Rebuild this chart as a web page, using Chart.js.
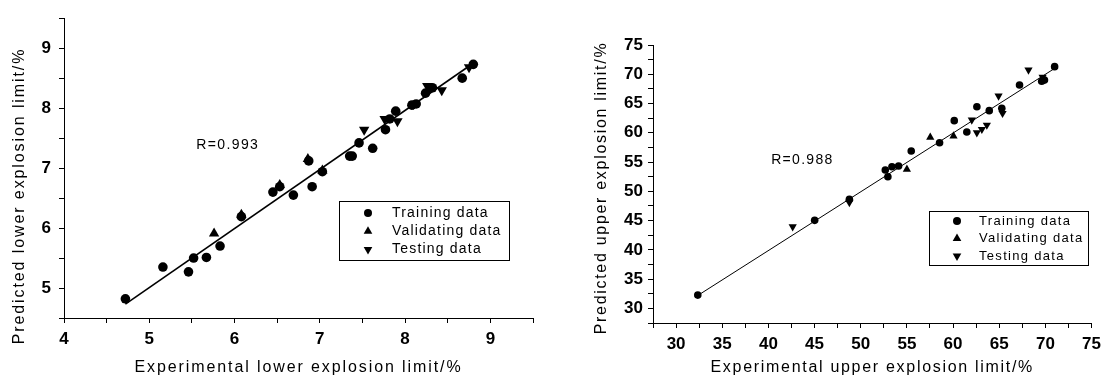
<!DOCTYPE html>
<html>
<head>
<meta charset="utf-8">
<script src="https://cdn.jsdelivr.net/npm/chart.js@4.4.1/dist/chart.umd.min.js"></script>
<style>
  html, body { margin: 0; padding: 0; background: #fff; }
  #wrap { position: relative; width: 1107px; height: 380px; }
  #lower { position: absolute; left: 0; top: 0; }
  #upper { position: absolute; left: 580px; top: 0; }
</style>
</head>
<body>
<div id="wrap">
  <canvas id="lower" width="560" height="380"></canvas>
  <canvas id="upper" width="527" height="380"></canvas>
</div>
<script>
// lower explosion limit (left panel)
const lowerTrainX = [4.72, 5.16, 5.46, 5.52, 5.67, 5.83, 6.08, 6.45, 6.53, 6.69, 6.87, 6.91, 7.03, 7.35, 7.38, 7.46, 7.62, 7.77, 7.82, 7.89, 8.08, 8.13, 8.24, 8.32, 8.67, 8.80];
const lowerTrainY = [4.82, 5.35, 5.27, 5.50, 5.51, 5.70, 6.19, 6.60, 6.69, 6.55, 7.12, 6.69, 6.94, 7.20, 7.20, 7.42, 7.33, 7.64, 7.82, 7.95, 8.05, 8.07, 8.25, 8.34, 8.50, 8.73];
const lowerValidX = [5.76, 6.08, 6.53, 6.86, 7.03];
const lowerValidY = [5.91, 6.22, 6.72, 7.15, 6.96];
const lowerTestX = [7.52, 7.76, 7.91, 8.10, 8.26, 8.43, 8.75];
const lowerTestY = [7.64, 7.82, 7.78, 8.07, 8.37, 8.30, 8.68];
const lowerFitX = [4.72, 8.82];
const lowerFitY = [4.73, 8.77];

// upper explosion limit (right panel)
const upperTrainX = [32.35, 45.01, 48.77, 52.66, 52.94, 53.38, 54.10, 55.47, 58.54, 60.13, 61.49, 62.58, 63.92, 65.28, 67.20, 69.6, 69.9, 71.0];
const upperTrainY = [32.27, 45.04, 48.65, 53.64, 52.50, 54.21, 54.32, 56.90, 58.31, 62.07, 60.14, 64.46, 63.78, 64.19, 68.17, 68.8, 69.0, 71.3];
const upperValidX = [55.00, 57.53, 60.05];
const upperValidY = [53.76, 59.23, 59.45];
const upperTestX = [42.63, 48.77, 62.03, 62.58, 63.12, 63.66, 64.93, 65.36, 68.17, 69.7];
const upperTestY = [43.95, 48.10, 62.19, 60.02, 60.60, 61.33, 66.29, 63.33, 70.73, 69.5];
const upperFitX = [32.35, 71.0];
const upperFitY = [32.2, 71.0];

const seriesNames = ["Training data", "Validating data", "Testing data"];

function pts(xs, ys) {
  return xs.map((x, i) => ({ x: x, y: ys[i] }));
}

Chart.defaults.font.family = "'Liberation Sans', Arial, sans-serif";
Chart.defaults.color = "#000";

const markerStyles = [
  { pointStyle: "circle", rotation: 0 },
  { pointStyle: "triangle", rotation: 0 },
  { pointStyle: "triangle", rotation: 180 }
];

function drawMarker(ctx, style, r, x, y) {
  ctx.save();
  ctx.translate(x, y);
  ctx.rotate(style.rotation * Math.PI / 180);
  ctx.beginPath();
  if (style.pointStyle === "circle") {
    ctx.arc(0, 0, r, 0, Math.PI * 2);
  } else {
    ctx.moveTo(0, -r);
    ctx.lineTo(r * Math.sin(2 * Math.PI / 3), -r * Math.cos(2 * Math.PI / 3));
    ctx.lineTo(r * Math.sin(4 * Math.PI / 3), -r * Math.cos(4 * Math.PI / 3));
    ctx.closePath();
  }
  ctx.fill();
  ctx.restore();
}

// axis titles, R value and framed legend
const overlay = {
  id: "overlay",
  afterDraw(chart, args, opts) {
    const ctx = chart.ctx;
    const area = chart.chartArea;
    ctx.save();
    ctx.fillStyle = "#000";
    ctx.strokeStyle = "#000";

    ctx.letterSpacing = opts.titleSpacing;
    ctx.font = opts.titleFont;
    ctx.textAlign = "center";
    ctx.textBaseline = "middle";
    ctx.fillText(opts.xTitle, (area.left + area.right) / 2, opts.xTitleY);
    ctx.save();
    ctx.translate(opts.yTitleX, opts.yTitleY);
    ctx.rotate(-Math.PI / 2);
    ctx.fillText(opts.yTitle, 0, 0);
    ctx.restore();

    ctx.letterSpacing = opts.labelSpacing;
    ctx.font = opts.labelFont;
    ctx.textAlign = "left";
    const rx = chart.scales.x.getPixelForValue(opts.rAt[0]);
    const ry = chart.scales.y.getPixelForValue(opts.rAt[1]);
    ctx.fillText(opts.rText, rx, ry);

    const box = opts.legendBox;
    ctx.font = box.font;
    ctx.letterSpacing = box.spacing;
    ctx.lineWidth = 1;
    ctx.strokeRect(box.x + 0.5, box.y + 0.5, box.w, box.h);
    seriesNames.forEach((name, i) => {
      const y = box.y + box.firstRow + i * box.rowGap;
      drawMarker(ctx, markerStyles[i], i === 0 ? box.r : box.r * 1.25, box.x + box.markerX, y);
      ctx.fillText(name, box.x + box.textX, y);
    });
    ctx.restore();
  }
};

function buildChart(canvas, cfg) {
  const dotColor = "#000";
  return new Chart(canvas, {
    type: "scatter",
    data: {
      datasets: [
        {
          label: seriesNames[0],
          data: pts(cfg.train[0], cfg.train[1]),
          pointStyle: "circle",
          pointRadius: cfg.r,
          backgroundColor: dotColor,
          borderColor: dotColor,
          borderWidth: 0
        },
        {
          label: seriesNames[1],
          data: pts(cfg.valid[0], cfg.valid[1]),
          pointStyle: "triangle",
          pointRadius: cfg.r * 1.25,
          backgroundColor: dotColor,
          borderColor: dotColor,
          borderWidth: 0
        },
        {
          label: seriesNames[2],
          data: pts(cfg.test[0], cfg.test[1]),
          pointStyle: "triangle",
          rotation: 180,
          pointRadius: cfg.r * 1.25,
          backgroundColor: dotColor,
          borderColor: dotColor,
          borderWidth: 0
        },
        {
          label: "fit",
          data: pts(cfg.fit[0], cfg.fit[1]),
          showLine: true,
          pointRadius: 0,
          borderColor: "#000",
          borderWidth: cfg.lineWidth
        }
      ]
    },
    options: {
      responsive: false,
      animation: false,
      layout: {
        padding: { left: 0, right: cfg.padRight, top: cfg.padTop, bottom: 0 }
      },
      plugins: {
        legend: { display: false },
        tooltip: { enabled: false },
        overlay: cfg.overlay
      },
      scales: {
        x: {
          type: "linear",
          min: cfg.xRange[0],
          max: cfg.xRange[1],
          afterFit: (s) => { s.height = cfg.xAxisHeight; },
          border: { color: "#000", width: 1 },
          grid: { drawOnChartArea: false, drawTicks: true, tickLength: 5, color: "#000" },
          ticks: {
            stepSize: cfg.minorStep,
            autoSkip: false,
            maxRotation: 0,
            padding: 6,
            font: { size: 17, weight: "bold" },
            callback: (v) => (Math.abs(v / cfg.majorStep - Math.round(v / cfg.majorStep)) < 1e-6 ? String(v) : "")
          }
        },
        y: {
          type: "linear",
          min: cfg.yRange[0],
          max: cfg.yRange[1],
          afterFit: (s) => { s.width = cfg.yAxisWidth; },
          border: { color: "#000", width: 1 },
          grid: { drawOnChartArea: false, drawTicks: true, tickLength: 5, color: "#000" },
          ticks: {
            stepSize: cfg.minorStep,
            autoSkip: false,
            padding: cfg.yTickPad,
            font: { size: 17, weight: "bold" },
            callback: (v) => (Math.abs(v / cfg.majorStep - Math.round(v / cfg.majorStep)) < 1e-6 ? String(v) : "")
          }
        }
      }
    },
    plugins: [overlay]
  });
}

buildChart(document.getElementById("lower"), {
  train: [lowerTrainX, lowerTrainY],
  valid: [lowerValidX, lowerValidY],
  test: [lowerTestX, lowerTestY],
  fit: [lowerFitX, lowerFitY],
  r: 4.8,
  lineWidth: 1.6,
  xRange: [4, 9.5],
  yRange: [4.5, 9.5],
  minorStep: 0.5,
  majorStep: 1,
  padRight: 27,
  padTop: 12,
  xAxisHeight: 62,
  yAxisWidth: 64,
  yTickPad: 8,
  overlay: {
    xTitle: "Experimental lower explosion limit/%",
    yTitle: "Predicted lower explosion limit/%",
    xTitleY: 368,
    yTitleX: 20,
    yTitleY: 196,
    titleFont: "16px 'Liberation Sans', Arial, sans-serif",
    titleSpacing: "1.9px",
    labelFont: "14px 'Liberation Sans', Arial, sans-serif",
    labelSpacing: "1.4px",
    rText: "R=0.993",
    rAt: [5.55, 7.38],
    legendBox: {
      x: 339, y: 201, w: 170, h: 59, firstRow: 12, rowGap: 18.3, markerX: 29, textX: 53, r: 4,
      font: "14px 'Liberation Sans', Arial, sans-serif", spacing: "1.2px"
    }
  }
});

buildChart(document.getElementById("upper"), {
  train: [upperTrainX, upperTrainY],
  valid: [upperValidX, upperValidY],
  test: [upperTestX, upperTestY],
  fit: [upperFitX, upperFitY],
  r: 3.8,
  lineWidth: 1,
  xRange: [27.5, 75],
  yRange: [27.5, 75],
  minorStep: 2.5,
  majorStep: 5,
  padRight: 14,
  padTop: 45,
  xAxisHeight: 57,
  yAxisWidth: 73,
  yTickPad: 5,
  overlay: {
    xTitle: "Experimental upper explosion limit/%",
    yTitle: "Predicted upper explosion limit/%",
    xTitleY: 368,
    yTitleX: 22,
    yTitleY: 188,
    titleFont: "16px 'Liberation Sans', Arial, sans-serif",
    titleSpacing: "1.7px",
    labelFont: "14px 'Liberation Sans', Arial, sans-serif",
    labelSpacing: "1.3px",
    rText: "R=0.988",
    rAt: [40.3, 55.35],
    legendBox: {
      x: 349, y: 211, w: 159, h: 54, firstRow: 10, rowGap: 17.5, markerX: 28, textX: 50, r: 4,
      font: "13px 'Liberation Sans', Arial, sans-serif", spacing: "1.3px"
    }
  }
});
</script>
</body>
</html>
